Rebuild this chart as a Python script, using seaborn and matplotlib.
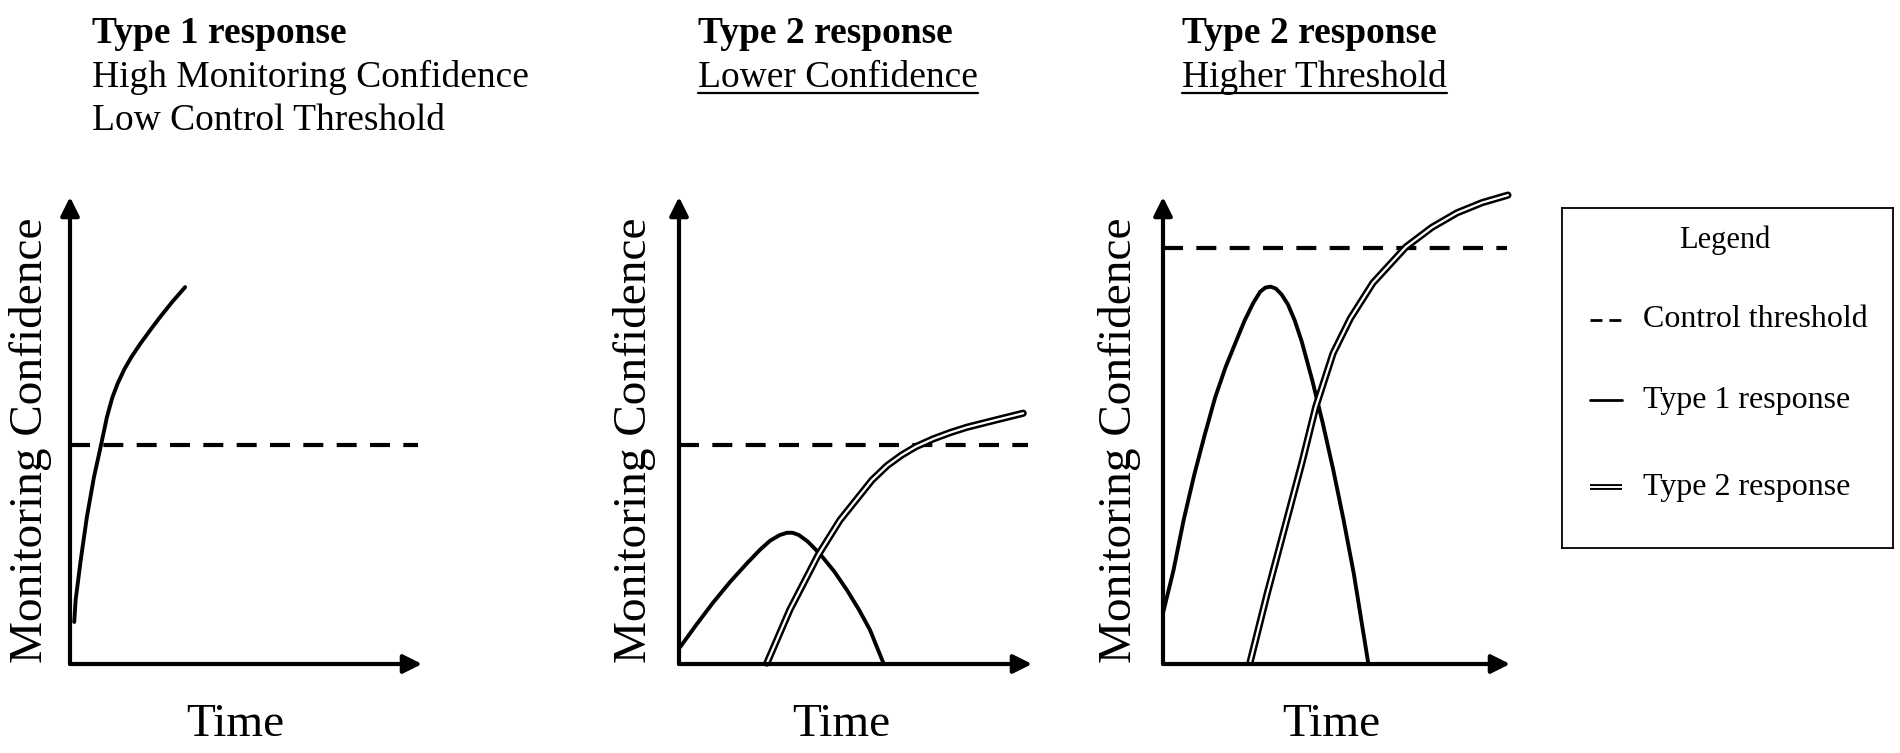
import matplotlib
matplotlib.use('Agg')
import matplotlib.pyplot as plt
import seaborn as sns
from matplotlib.lines import Line2D

# ---- text ----
titles = ['Type 1 response', 'Type 2 response', 'Type 2 response']
subtitles = [['High Monitoring Confidence', 'Low Control Threshold'],
             ['Lower Confidence'],
             ['Higher Threshold']]
underlined = [False, True, True]
y_label = 'Monitoring Confidence'
x_label = 'Time'
legend_title = 'Legend'
legend_labels = ['Control threshold', 'Type 1 response', 'Type 2 response']

# ---- data (axis units: 0 = origin, 1 = arrow tip) ----
thresholds = [0.469, 0.469, 0.891]
threshold_end = [0.99, 0.99, 0.99]

p1_type1_x = [0.012, 0.016, 0.030, 0.048, 0.068, 0.085, 0.105, 0.120, 0.135, 0.155,
              0.175, 0.199, 0.228, 0.256, 0.290, 0.327]
p1_type1_y = [0.090, 0.137, 0.220, 0.315, 0.400, 0.458, 0.529, 0.570, 0.600, 0.632,
              0.658, 0.685, 0.715, 0.743, 0.775, 0.807]

p2_type1_x = [0.003, 0.050, 0.096, 0.145, 0.193, 0.230, 0.258, 0.285, 0.306, 0.322,
              0.340, 0.365, 0.399, 0.440, 0.476, 0.510, 0.541, 0.578]
p2_type1_y = [0.036, 0.085, 0.131, 0.176, 0.216, 0.245, 0.264, 0.276, 0.281, 0.281,
              0.276, 0.262, 0.236, 0.198, 0.158, 0.116, 0.073, 0.004]
p2_type2_x = [0.249, 0.314, 0.394, 0.456, 0.547, 0.590, 0.630, 0.670, 0.720, 0.770,
              0.816, 0.900, 0.975]
p2_type2_y = [0.002, 0.116, 0.233, 0.308, 0.394, 0.425, 0.447, 0.465, 0.482, 0.496,
              0.507, 0.523, 0.537]

p3_type1_x = [0.000, 0.030, 0.060, 0.090, 0.120, 0.150, 0.180, 0.210, 0.235, 0.260,
              0.280, 0.295, 0.310, 0.325, 0.342, 0.360, 0.380, 0.400, 0.430, 0.460,
              0.490, 0.520, 0.550, 0.591]
p3_type1_y = [0.109, 0.200, 0.310, 0.405, 0.490, 0.570, 0.635, 0.690, 0.735, 0.773,
              0.797, 0.806, 0.808, 0.804, 0.791, 0.770, 0.735, 0.690, 0.608, 0.517,
              0.418, 0.310, 0.193, 0.004]
p3_type2_x = [0.251, 0.300, 0.350, 0.400, 0.440, 0.490, 0.540, 0.605, 0.700, 0.775,
              0.847, 0.920, 0.994]
p3_type2_y = [0.004, 0.150, 0.290, 0.430, 0.550, 0.665, 0.740, 0.816, 0.893, 0.935,
              0.966, 0.988, 1.004]

type1_x = [p1_type1_x, p2_type1_x, p3_type1_x]
type1_y = [p1_type1_y, p2_type1_y, p3_type1_y]
type2_x = [None, p2_type2_x, p3_type2_x]
type2_y = [None, p2_type2_y, p3_type2_y]

sns.set_theme(style='white')
plt.rcParams['font.family'] = ['Liberation Serif', 'DejaVu Serif']
plt.rcParams['text.color'] = 'black'

W, H = 1900, 753
fig = plt.figure(figsize=(19, 7.53), dpi=100)

# panel placement in pixels: (axis x, arrow tip x)
panels = [(70, 422), (679, 1032), (1163, 1510)]
y_origin, y_tip = 664, 197
title_x = [92, 698, 1182]
ylab_x = [-0.113, -0.125, -0.124]
time_x = [0.47, 0.46, 0.484]

for i, (x0, x1) in enumerate(panels):
    ax = fig.add_axes([x0 / W, (H - y_origin) / H, (x1 - x0) / W, (y_origin - y_tip) / H])
    ax.set_xlim(0, 1)
    ax.set_ylim(0, 1)
    ax.set_axis_off()

    # axes arrows
    arrow = dict(arrowstyle='-|>', color='black', lw=3, mutation_scale=28, shrinkA=0, shrinkB=0)
    ax.annotate('', xy=(1, 0), xytext=(0, 0), xycoords='axes fraction', arrowprops=arrow)
    ax.annotate('', xy=(0, 1), xytext=(0, 0), xycoords='axes fraction', arrowprops=arrow)

    # control threshold
    ax.plot([0, threshold_end[i]], [thresholds[i], thresholds[i]], color='black', lw=3,
            linestyle=(0, (4.8, 3.2)), solid_capstyle='butt')

    # type 1 response
    sns.lineplot(x=type1_x[i], y=type1_y[i], ax=ax, color='black', lw=2.8,
                 sort=False, estimator=None, legend=False)

    # type 2 response (double line)
    if type2_x[i] is not None:
        sns.lineplot(x=type2_x[i], y=type2_y[i], ax=ax, color='black', lw=5.2,
                     sort=False, estimator=None, legend=False)
        sns.lineplot(x=type2_x[i], y=type2_y[i], ax=ax, color='white', lw=1.6,
                     sort=False, estimator=None, legend=False)
    for ln in ax.lines:
        ln.set_clip_on(False)
        ln.set_solid_joinstyle('round')

    ax.text(ylab_x[i], 0.48, y_label, rotation=90, transform=ax.transAxes,
            ha='center', va='center', fontsize=34)
    ax.text(time_x[i], -0.13, x_label, transform=ax.transAxes,
            ha='center', va='center', fontsize=34)

    # titles
    fig.text(title_x[i] / W, 1 - 43 / H, titles[i], fontsize=27, fontweight='bold',
             ha='left', va='baseline')
    for j, s in enumerate(subtitles[i]):
        base = 87 + 43 * j
        t = fig.text(title_x[i] / W, 1 - base / H, s, fontsize=27,
                     ha='left', va='baseline')
        if underlined[i]:
            fig.canvas.draw()
            bb = t.get_window_extent()
            yy = 1 - (base + 6) / H
            fig.add_artist(Line2D([bb.x0 / W, bb.x1 / W], [yy, yy], transform=fig.transFigure,
                                  color='black', lw=1.6))

# ---- legend box ----
lx0, lx1, ly0, ly1 = 1562, 1893, 208, 548
lax = fig.add_axes([lx0 / W, (H - ly1) / H, (lx1 - lx0) / W, (ly1 - ly0) / H])
lax.set_xlim(0, 1)
lax.set_ylim(0, 1)
lax.set_xticks([])
lax.set_yticks([])
for sp in lax.spines.values():
    sp.set_visible(True)
    sp.set_color('black')
    sp.set_linewidth(1.3)

lax.text(0.492, 0.906, legend_title, ha='center', va='center', fontsize=22)
entry_y = [0.671, 0.435, 0.179]
sx = [0.085, 0.181]
lax.plot(sx, [entry_y[0]] * 2, color='black', lw=2, linestyle=(0, (4.3, 2.5)),
         dash_capstyle='butt')
lax.plot(sx, [entry_y[1]] * 2, color='black', lw=2)
lax.plot(sx, [entry_y[2]] * 2, color='black', lw=4.2, solid_capstyle='butt')
lax.plot(sx, [entry_y[2]] * 2, color='white', lw=1.4, solid_capstyle='butt')
for yv, lab in zip(entry_y, legend_labels):
    lax.text(0.245, yv, lab, ha='left', va='center', fontsize=23)

fig.savefig('out.png', dpi=100, facecolor='white')
